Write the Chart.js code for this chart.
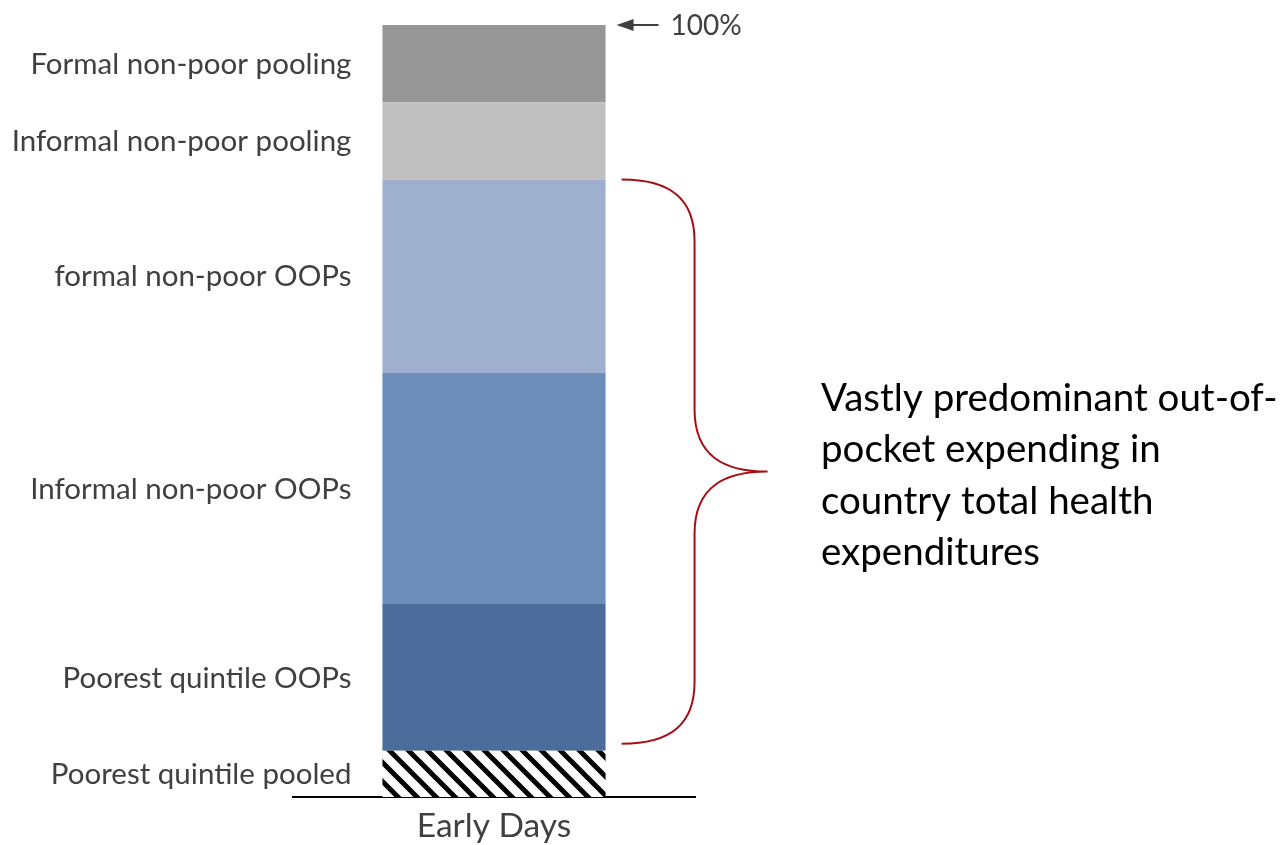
<!DOCTYPE html>
<html>
<head>
<meta charset="utf-8">
<script src="https://cdn.jsdelivr.net/npm/chart.js@4"></script>
<style>
  html, body { margin: 0; padding: 0; background: #ffffff; }
  #wrap { width: 1288px; height: 845px; position: relative; }
</style>
</head>
<body>
<div id="wrap"><canvas id="chart"></canvas></div>
<script>
// values in % of total health expenditure, bottom of the stack first
var categories = ["Early Days"];
var segmentNames = [
  "Poorest quintile pooled",
  "Poorest quintile OOPs",
  "Informal non-poor OOPs",
  "formal non-poor OOPs",
  "Informal non-poor pooling",
  "Formal non-poor pooling"
];
var poorestPooled = [6];
var poorestOOPs = [19];
var informalOOPs = [30];
var formalOOPs = [25];
var informalPooling = [10];
var formalPooling = [10];
var segmentColors = ["hatch", "#4c6c9b", "#6d8dba", "#9eb0ce", "#bfbfbf", "#969696"];
var yTicks = [0, 100];
var topLabel = "100%";
var noteLines = [
  "Vastly predominant out-of-",
  "pocket expending in",
  "country total health",
  "expenditures"
];

function makeHatch() {
  var size = 19;
  var c = document.createElement("canvas");
  c.width = size;
  c.height = size;
  var g = c.getContext("2d");
  g.fillStyle = "#ffffff";
  g.fillRect(0, 0, size, size);
  g.strokeStyle = "#000000";
  g.lineWidth = 5;
  g.beginPath();
  g.moveTo(-4, -4); g.lineTo(size + 4, size + 4);
  g.moveTo(-4 - size, -4); g.lineTo(4, size + 4);
  g.moveTo(size - 4, -4); g.lineTo(size * 2 + 4, size + 4);
  g.stroke();
  return g.createPattern(c, "repeat");
}

var seriesList = [poorestPooled, poorestOOPs, informalOOPs, formalOOPs, informalPooling, formalPooling];
var hatch = makeHatch();
var datasets = [];
for (var i = 0; i < seriesList.length; i++) {
  datasets.push({
    label: segmentNames[i],
    data: seriesList[i],
    backgroundColor: segmentColors[i] === "hatch" ? hatch : segmentColors[i],
    borderWidth: 0,
    barPercentage: 0.555,
    categoryPercentage: 1.0
  });
}

var FONT = "Lato, 'Open Sans', sans-serif";

// labels to the left of each segment, 100% arrow, brace and note
var sidePlugin = {
  id: "sideNotes",
  afterDatasetsDraw: function (chart) {
    var ctx = chart.ctx;
    var yScale = chart.scales.y;
    var barLeft = 0, barRight = 0;
    ctx.save();
    ctx.font = "29.5px " + FONT;
    ctx.fillStyle = "#404040";
    ctx.textAlign = "right";
    ctx.textBaseline = "middle";
    for (var i = 0; i < chart.data.datasets.length; i++) {
      var bar = chart.getDatasetMeta(i).data[0];
      var top = Math.min(bar.y, bar.base);
      var bot = Math.max(bar.y, bar.base);
      barLeft = bar.x - bar.width / 2;
      barRight = bar.x + bar.width / 2;
      ctx.fillText(chart.data.datasets[i].label, barLeft - 31, (top + bot) / 2 + 1);
    }

    // 100% arrow
    var yTop = yScale.getPixelForValue(yTicks[1]);
    ctx.strokeStyle = "#404040";
    ctx.fillStyle = "#404040";
    ctx.lineWidth = 2;
    ctx.beginPath();
    ctx.moveTo(barRight + 24, yTop);
    ctx.lineTo(barRight + 53, yTop);
    ctx.stroke();
    ctx.beginPath();
    ctx.moveTo(barRight + 11, yTop);
    ctx.lineTo(barRight + 28, yTop - 6);
    ctx.lineTo(barRight + 28, yTop + 6);
    ctx.closePath();
    ctx.fill();
    ctx.textAlign = "left";
    ctx.font = "28px " + FONT;
    ctx.fillText(topLabel, barRight + 65, yTop + 1);

    // brace over the out-of-pocket segments
    var metaTop = chart.getDatasetMeta(3).data[0];
    var metaBot = chart.getDatasetMeta(1).data[0];
    var b0 = Math.min(metaTop.y, metaTop.base);
    var b1 = Math.max(metaBot.y, metaBot.base) - 7;
    var mid = (b0 + b1) / 2 + 10;
    var x0 = barRight + 16;
    var xv = barRight + 89;
    var xt = barRight + 162;
    var r = 62;
    ctx.strokeStyle = "#a50f15";
    ctx.lineWidth = 2;
    ctx.beginPath();
    ctx.moveTo(x0, b0);
    ctx.bezierCurveTo(x0 + 50, b0, xv, b0 + 20, xv, b0 + r);
    ctx.lineTo(xv, mid - r);
    ctx.bezierCurveTo(xv, mid - 15, xv + 30, mid, xt, mid);
    ctx.bezierCurveTo(xv + 30, mid, xv, mid + 15, xv, mid + r);
    ctx.lineTo(xv, b1 - r);
    ctx.bezierCurveTo(xv, b1 - 20, x0 + 50, b1, x0, b1);
    ctx.stroke();

    // note text
    ctx.fillStyle = "#000000";
    ctx.font = "38.5px " + FONT;
    ctx.textAlign = "left";
    ctx.textBaseline = "middle";
    for (var k = 0; k < noteLines.length; k++) {
      ctx.fillText(noteLines[k], 821, mid - 73 + k * 51.5);
    }
    ctx.restore();
  }
};

new Chart(document.getElementById("chart"), {
  type: "bar",
  data: { labels: categories, datasets: datasets },
  options: {
    responsive: true,
    maintainAspectRatio: false,
    animation: false,
    layout: { padding: { left: 293, right: 593, top: 25, bottom: -10.5 } },
    plugins: {
      legend: { display: false },
      tooltip: { enabled: false }
    },
    scales: {
      x: {
        stacked: true,
        grid: { display: false, drawTicks: false },
        border: { display: true, color: "#000000", width: 2 },
        ticks: {
          color: "#404040",
          padding: 15,
          font: { family: FONT, size: 33.5, lineHeight: 0.85 }
        }
      },
      y: {
        stacked: true,
        display: false,
        min: yTicks[0],
        max: yTicks[1]
      }
    }
  },
  plugins: [sidePlugin]
});
</script>
</body>
</html>
